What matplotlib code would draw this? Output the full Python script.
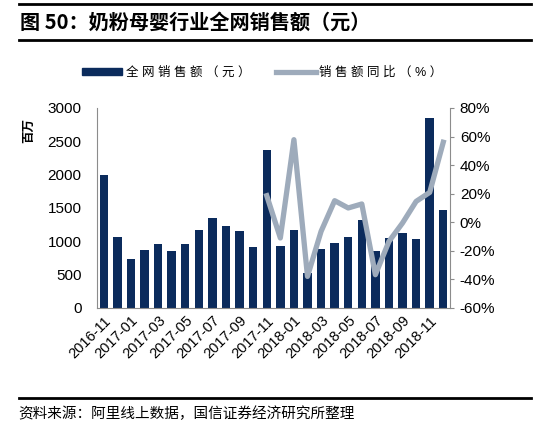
import matplotlib.pyplot as plt
import numpy as np
from matplotlib.lines import Line2D

plt.rcParams['font.family'] = ['Liberation Sans', 'Noto Sans CJK SC', 'DejaVu Sans']

months = ['2016-11', '2016-12', '2017-01', '2017-02', '2017-03', '2017-04', '2017-05',
          '2017-06', '2017-07', '2017-08', '2017-09', '2017-10', '2017-11', '2017-12',
          '2018-01', '2018-02', '2018-03', '2018-04', '2018-05', '2018-06', '2018-07',
          '2018-08', '2018-09', '2018-10', '2018-11', '2018-12']
sales = [2000, 1060, 740, 870, 960, 850, 965, 1165, 1350, 1230, 1155, 910, 2370, 935,
         1170, 530, 885, 980, 1065, 1320, 855, 1045, 1120, 1035, 2855, 1470]
# YoY growth only available from 2017-11
yoy = [np.nan] * 12 + [18.6, -11.0, 57.8, -37.9, -6.4, 15.1, 10.0, 12.8, -36.7,
                       -13.4, -0.5, 14.6, 20.9, 56.0]
legend_labels = ['全 网 销 售 额 （ 元 ）', '销 售 额 同 比 （ % ）']

bar_color = '#0b2b5c'
line_color = '#9eabbb'
grey = '#8c8c8c'

fig = plt.figure(figsize=(5.39, 4.33), dpi=100)
ax = fig.add_axes([0.18, 0.2887, 0.655, 0.462])
ax2 = ax.twinx()

x = np.arange(len(months))
ax.bar(x, sales, width=0.62, color=bar_color, zorder=2)
ax2.plot(x, yoy, color=line_color, linewidth=3.8, zorder=3)

ax.set_xlim(-0.5, len(months) - 0.5)
ax.set_ylim(0, 3000)
ax.set_yticks(np.arange(0, 3001, 500))
ax2.set_ylim(-60, 80)
ax2.set_yticks(np.arange(-60, 81, 20))
ax2.set_yticklabels([f'{v}%' for v in range(-60, 81, 20)])

ax.set_xticks(x[::2])
ax.set_xticklabels(months[::2], rotation=45, ha='right', rotation_mode='anchor')

for a in (ax, ax2):
    a.spines['top'].set_visible(False)
    for s in ('left', 'right', 'bottom'):
        a.spines[s].set_color(grey)
ax.spines['right'].set_visible(False)
ax2.spines['left'].set_visible(False)
ax2.spines['bottom'].set_visible(False)

ax.tick_params(axis='y', length=0, labelsize=11, pad=11)
ax.tick_params(axis='x', length=0, labelsize=10.5, pad=4)
ax2.tick_params(axis='y', length=3, color=grey, labelsize=11, pad=4)

ax.set_ylabel('百万', fontsize=9, fontweight='bold', rotation=90)
ax.yaxis.set_label_coords(-0.175, 0.885)

ax2.set_zorder(ax.get_zorder() + 1)
ax2.patch.set_visible(False)

handles = [plt.Rectangle((0, 0), 1, 1, color=bar_color),
           Line2D([0], [0], color=line_color, linewidth=3.8)]
fig.legend(handles, legend_labels, loc='center',
           bbox_to_anchor=(0.487, 0.832), ncol=2, frameon=False, fontsize=9,
           handlelength=3.2, handleheight=0.6, columnspacing=2.0, handletextpad=0.3)

# header and footer
fig.add_artist(Line2D([0.035, 0.985], [1 - 4 / 433, 1 - 4 / 433], color='black', linewidth=2))
fig.add_artist(Line2D([0.035, 0.985], [1 - 40 / 433, 1 - 40 / 433], color='black', linewidth=2))
fig.add_artist(Line2D([0.035, 0.985], [1 - 398 / 433, 1 - 398 / 433], color='black', linewidth=2))
fig.text(0.037, 1 - 22 / 433, '图 50：奶粉母婴行业全网销售额（元）', fontsize=14.5,
         fontweight='bold', va='center', family=['Noto Sans CJK SC', 'DejaVu Sans'])
fig.text(0.033, 1 - 414 / 433, '资料来源：阿里线上数据，国信证券经济研究所整理', fontsize=10.5,
         va='center', family=['Noto Sans CJK SC', 'DejaVu Sans'])

fig.savefig('out.png', dpi=100)
